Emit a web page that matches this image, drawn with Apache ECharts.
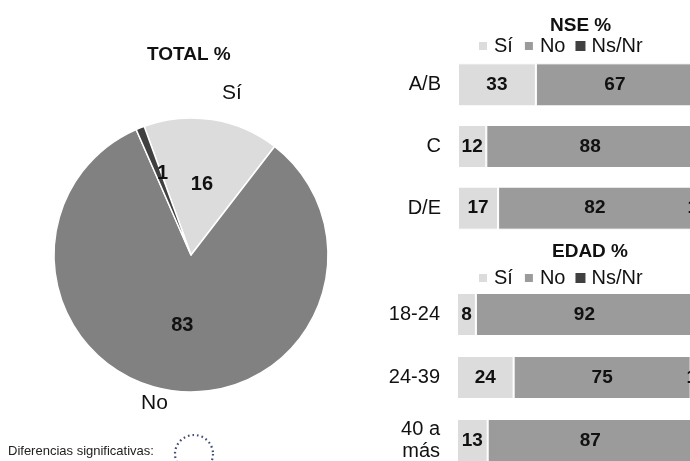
<!DOCTYPE html>
<html>
<head>
<meta charset="utf-8">
<script src="https://cdn.jsdelivr.net/npm/echarts@6/dist/echarts.min.js"></script>
<style>
  html, body { margin: 0; padding: 0; background: #fff; }
  #main { width: 690px; height: 461px; }
</style>
</head>
<body>
<div id="main"></div>
<script>
// datos
const answers = ['Sí', 'No', 'Ns/Nr']
const totalValues = [16, 83, 1]

const nseCats = ['A/B', 'C', 'D/E']
const nseSi = [33, 12, 17]
const nseNo = [67, 88, 82]
const nseNsnr = [0, 0, 1]

const edadCats = ['18-24', '24-39', '40 a\nmás']
const edadSi = [8, 24, 13]
const edadNo = [92, 75, 87]
const edadNsnr = [0, 1, 0]

const FONT = '"Liberation Sans", Arial, sans-serif'
const COL_SI = '#dcdcdc'
const COL_NO_BAR = '#9b9b9b'
const COL_NO_PIE = '#818181'
const COL_NSNR = '#404040'
const TXT = '#111'

const chart = echarts.init(document.getElementById('main'))

function barLabel() {
  return {
    show: true,
    position: 'inside',
    color: TXT,
    fontFamily: FONT,
    fontWeight: 'bold',
    fontSize: 19,
    formatter: p => (p.value > 0 ? p.value : ''),
  }
}

function barSeries(idx, si, no, nsnr) {
  const base = {
    type: 'bar',
    stack: 'g' + idx,
    xAxisIndex: idx,
    yAxisIndex: idx,
    barWidth: 43,
    label: barLabel(),
    emphasis: { disabled: true },
  }
  return [
    Object.assign({}, base, { name: answers[0], data: si, itemStyle: { color: COL_SI, borderColor: '#fff', borderWidth: 1 } }),
    Object.assign({}, base, { name: answers[1], data: no, itemStyle: { color: COL_NO_BAR, borderColor: '#fff', borderWidth: 1 } }),
    Object.assign({}, base, { name: answers[2], data: nsnr, itemStyle: { color: COL_NSNR } }),
  ]
}

function catAxis(idx, cats) {
  return {
    type: 'category',
    gridIndex: idx,
    data: cats,
    inverse: true,
    axisLine: { show: false },
    axisTick: { show: false },
    axisLabel: {
      color: TXT,
      fontFamily: FONT,
      fontSize: 20,
      margin: 17,
      align: 'right',
      lineHeight: 22,
    },
  }
}

function valAxis(idx) {
  return {
    type: 'value',
    gridIndex: idx,
    min: 0,
    max: 100,
    show: false,
    splitLine: { show: false },
  }
}

const legendBase = {
  data: answers,
  icon: 'rect',
  itemWidth: 10,
  itemHeight: 10,
  itemGap: 10,
  padding: 0,
  selectedMode: false,
  textStyle: { fontFamily: FONT, fontSize: 20, color: TXT, padding: [0, 0, 0, 1] },
}

const titleStyle = { fontFamily: FONT, fontSize: 19, fontWeight: 'bold', color: TXT }

const pieData = answers.map((n, i) => ({
  name: n,
  value: totalValues[i],
  itemStyle: { color: [COL_SI, COL_NO_PIE, COL_NSNR][i] },
}))
pieData[2].label = { offset: [-2, -15] }

const option = {
  animation: false,
  backgroundColor: '#fff',
  title: [
    { text: 'TOTAL %', left: 147, top: 45, padding: 0, textStyle: titleStyle },
    { text: 'NSE %', left: 550, top: 16, padding: 0, textStyle: titleStyle },
    { text: 'EDAD %', left: 552, top: 242, padding: 0, textStyle: titleStyle },
  ],
  legend: [
    Object.assign({}, legendBase, { left: 477, top: 36 }),
    Object.assign({}, legendBase, { left: 477, top: 268 }),
  ],
  grid: [
    { left: 458, width: 236, top: 54, height: 185, outerBoundsMode: 'none' },
    { left: 457, width: 236, top: 283, height: 189, outerBoundsMode: 'none' },
  ],
  xAxis: [valAxis(0), valAxis(1)],
  yAxis: [catAxis(0, nseCats), catAxis(1, edadCats)],
  graphic: [
    {
      type: 'text',
      left: 8,
      top: 445,
      style: { text: 'Diferencias significativas:', font: '13px ' + FONT, fill: '#222' },
    },
    {
      type: 'circle',
      shape: { cx: 194, cy: 454, r: 19 },
      style: { fill: 'none', stroke: '#3f4b78', lineWidth: 2.2, lineDash: [1.6, 3] },
    },
  ],
  series: [
    ...barSeries(0, nseSi, nseNo, nseNsnr),
    ...barSeries(1, edadSi, edadNo, edadNsnr),
    {
      // valores dentro
      type: 'pie',
      center: [191, 255],
      radius: [0, 137],
      startAngle: 110,
      clockwise: true,
      avoidLabelOverlap: false,
      emphasis: { disabled: true },
      itemStyle: { borderColor: '#fff', borderWidth: 1.5 },
      label: {
        show: true,
        position: 'inside',
        color: TXT,
        fontFamily: FONT,
        fontWeight: 'bold',
        fontSize: 20,
        formatter: '{c}',
      },
      labelLine: { show: false },
      data: pieData,
    },
    {
      // nombres fuera
      type: 'pie',
      center: [191, 255],
      radius: [0, 137],
      startAngle: 110,
      clockwise: true,
      avoidLabelOverlap: false,
      silent: true,
      emphasis: { disabled: true },
      itemStyle: { color: 'rgba(0,0,0,0)' },
      label: {
        show: true,
        position: 'outside',
        color: TXT,
        fontFamily: FONT,
        fontSize: 21,
        formatter: '{b}',
      },
      labelLine: { show: false },
      data: [
        { name: answers[0], value: totalValues[0], labelLine: { length: 27, length2: 1 } },
        { name: answers[1], value: totalValues[1], labelLine: { length: 12, length2: 0 } },
        { name: answers[2], value: totalValues[2], label: { show: false } },
      ],
    },
  ],
}

chart.setOption(option)
</script>
</body>
</html>
